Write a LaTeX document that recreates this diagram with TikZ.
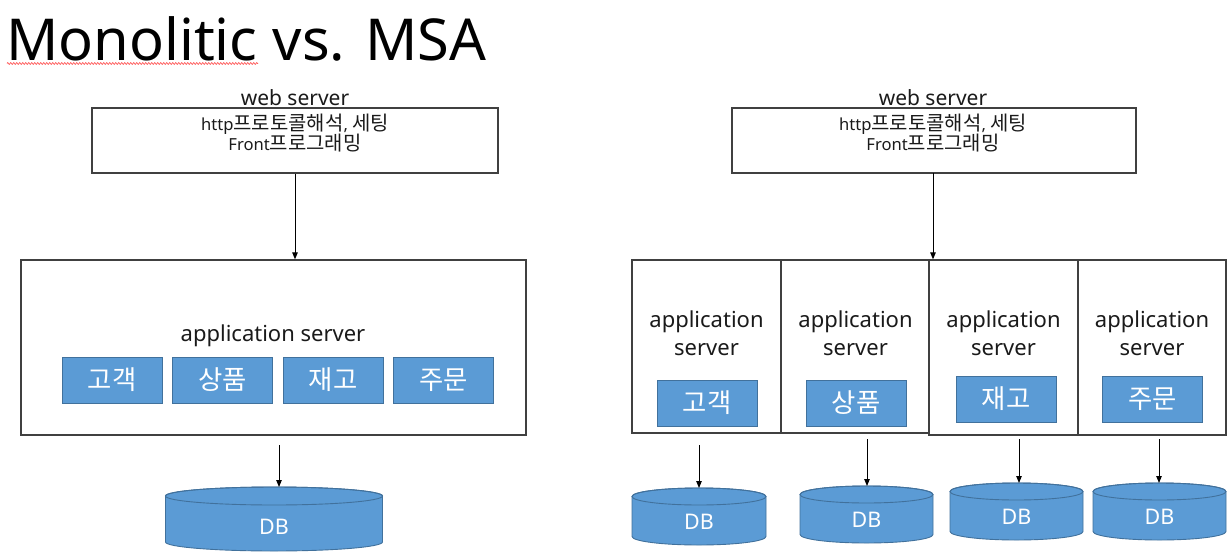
\documentclass[tikz,border=0pt]{standalone}
\usepackage{fontspec}
\setmainfont{Noto Sans}
\newfontfamily\kr[Scale=1.2]{Noto Sans CJK KR}
\usetikzlibrary{arrows.meta,decorations.pathmorphing}
\definecolor{dbblue}{HTML}{5B9BD5}
\definecolor{dbedge}{HTML}{41719C}
\definecolor{boxline}{HTML}{404040}
\definecolor{ink}{HTML}{1A1A1A}
\newcommand{\dbcyl}[7]{%
  \path[dbbody] ({#2-#5},#3) -- ({#2-#5},#4) arc[start angle=180,end angle=0,x radius=#5,y radius=#6]
     -- ({#2+#5},#3) arc[start angle=0,end angle=-180,x radius=#5,y radius=#6] -- cycle;
  \draw[dbrim] (#2,#3) ellipse[x radius=#5,y radius=#6];
  \node[dblbl] (#1) at (#2,#7) {DB};
  \coordinate (#1top) at (#2,{#3-#6});
}
\begin{document}
\begin{tikzpicture}[x=1pt,y=-1pt,
  frame/.style={draw=boxline,line width=1.3pt,fill=white,inner sep=0pt},
  svc/.style={draw=dbedge,line width=0.8pt,fill=dbblue,text=white,inner sep=0pt,
    minimum width=100pt,minimum height=46pt,font=\fontsize{22}{24}\selectfont},
  weblbl/.style={anchor=base,inner sep=0pt,text=ink,font=\fontsize{21}{25}\selectfont},
  innerlbl/.style={anchor=base,inner sep=0pt,text=ink,font=\fontsize{16.6}{20}\selectfont},
  applbl/.style={anchor=base,inner sep=0pt,text=ink,font=\fontsize{22}{28}\selectfont},
  dblbl/.style={inner sep=0pt,text=white,font=\fontsize{21.5}{25}\selectfont},
  dbbody/.style={fill=dbblue,draw=dbedge,line width=0.9pt},
  dbrim/.style={draw=dbedge,line width=0.9pt},
  conn/.style={draw=black,line width=1pt,-{Triangle[length=7pt,width=5.5pt]}}]
\useasboundingbox (0,0) rectangle (1230,551);
\fill[white] (0,0) rectangle (1230,551);

% title
\node[anchor=base west,inner sep=0pt,text=black,font=\fontsize{57.8}{64}\selectfont] (title) at (6,60) {Monolitic vs. MSA};
\draw[red!70!white,line width=0.7pt,decorate,decoration={zigzag,segment length=3pt,amplitude=0.8pt}] (7,63.5) -- (258,63.5);

% ---------- left: monolithic ----------
\node[frame,minimum width=406pt,minimum height=65pt] (ws1) at (295,140.5) {};
\node[weblbl] (ws1lbl) at (295,105) {web server};
\node[innerlbl] (ws1a) at (295,130) {http{\kr 프로토콜해석}, {\kr 세팅}};
\node[innerlbl] (ws1b) at (295,150) {Front{\kr 프로그래밍}};

\node[frame,minimum width=505pt,minimum height=175pt] (app) at (273.5,347.5) {};
\node[applbl] (applab) at (273,341) {application server};
\node[svc] (m1) at (112,380) {{\kr 고객}};
\node[svc] (m2) at (222.5,380) {{\kr 상품}};
\node[svc] (m3) at (333,380) {{\kr 재고}};
\node[svc] (m4) at (443.5,380) {{\kr 주문}};

\draw[conn] (ws1.south) -- (ws1.south |- app.north);

\dbcyl{dbL}{274}{496}{542}{108.5}{9}{527}
\coordinate (dbLin) at (279,445);
\draw[conn] (dbLin) -- (dbLin |- dbLtop);

% ---------- right: MSA ----------
\node[frame,minimum width=404pt,minimum height=65pt] (ws2) at (934,140.5) {};
\node[weblbl] (ws2lbl) at (933,105) {web server};
\node[innerlbl] (ws2a) at (933,130) {http{\kr 프로토콜해석}, {\kr 세팅}};
\node[innerlbl] (ws2b) at (933,150) {Front{\kr 프로그래밍}};

\node[frame,minimum width=149pt,minimum height=173pt] (a1) at (706.5,346.5) {};
\node[frame,minimum width=149pt,minimum height=173pt] (a2) at (855.5,346.5) {};
\node[frame,minimum width=149pt,minimum height=175pt] (a3) at (1003.5,347.5) {};
\node[frame,minimum width=148pt,minimum height=175pt] (a4) at (1152,347.5) {};

\foreach \n/\x in {a1/706.5,a2/855.5,a3/1003.5,a4/1152}{
  \node[applbl] (\n l1) at (\x,327) {application};
  \node[applbl] (\n l2) at (\x,355) {server};
}

\node[svc] (s1) at (707,403) {{\kr 고객}};
\node[svc] (s2) at (856,403) {{\kr 상품}};
\node[svc] (s3) at (1006,399) {{\kr 재고}};
\node[svc] (s4) at (1152.5,399) {{\kr 주문}};

\coordinate (ws2out) at (933,173);
\draw[conn] (ws2out) -- (ws2out |- a3.north);

\dbcyl{dbA}{699}{496.5}{536.5}{67}{8.5}{522}
\dbcyl{dbB}{866.5}{494.5}{534.5}{66.5}{8.5}{520}
\dbcyl{dbC}{1016.5}{491.5}{531.5}{66.5}{8.5}{517}
\dbcyl{dbD}{1159.5}{491.5}{531.5}{66.5}{8.5}{517}

\coordinate (dbAin) at (699,445);
\coordinate (dbBin) at (867,439);
\coordinate (dbCin) at (1019,439);
\coordinate (dbDin) at (1159,439);
\draw[conn] (dbAin) -- (dbAin |- dbAtop);
\draw[conn] (dbBin) -- (dbBin |- dbBtop);
\draw[conn] (dbCin) -- (dbCin |- dbCtop);
\draw[conn] (dbDin) -- (dbDin |- dbDtop);
\end{tikzpicture}
\end{document}
